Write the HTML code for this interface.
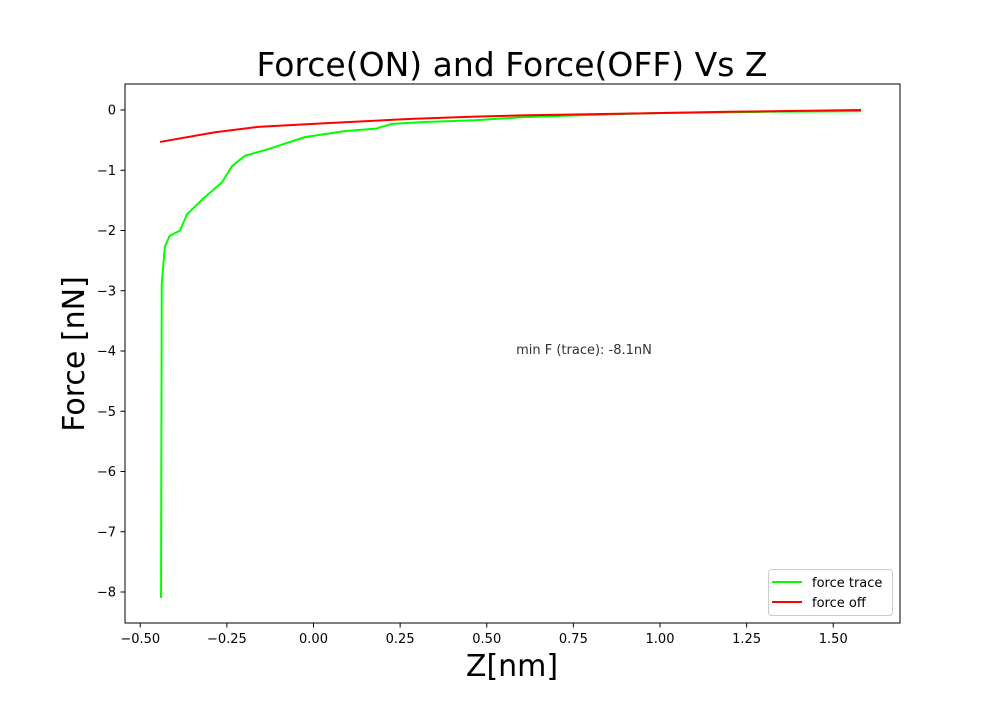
<!DOCTYPE html>
<html><head><meta charset="utf-8">
<style>
body{margin:0;background:#fff;}
svg text{font-family:"DejaVu Sans","Liberation Sans",sans-serif;}
</style></head>
<body>
<svg id="chart" width="1000" height="700" xmlns="http://www.w3.org/2000/svg">
<rect width="1000" height="700" fill="#fff"/>
<text x="512" y="76" font-size="33" text-anchor="middle">Force(ON) and Force(OFF) Vs Z</text>
<g id="plot"></g>
<rect x="125" y="84" width="775" height="539" fill="none" stroke="#000" stroke-width="1"/>
<text x="512" y="676" font-size="30" text-anchor="middle">Z[nm]</text>
<text transform="translate(84,354) rotate(-90)" font-size="30" text-anchor="middle">Force [nN]</text>
<text x="584" y="354" font-size="13" fill="#333" text-anchor="middle">min F (trace): -8.1nN</text>
<g>
<rect x="768.5" y="569.5" width="124" height="46" rx="3" fill="#fff" stroke="#ccc"/>
<line x1="772" y1="582" x2="802" y2="582" stroke="#00ff00" stroke-width="2"/>
<text x="812" y="587" font-size="13">force trace</text>
<line x1="772" y1="602" x2="802" y2="602" stroke="#ff0000" stroke-width="2"/>
<text x="812" y="607" font-size="13">force off</text>
</g>
</svg>
<script>
const xTicks=[-0.5,-0.25,0,0.25,0.5,0.75,1.0,1.25,1.5];
const xTickLabels=["\u22120.50","\u22120.25","0.00","0.25","0.50","0.75","1.00","1.25","1.50"];
const yTicks=[0,-1,-2,-3,-4,-5,-6,-7,-8];
const yTickLabels=["0","\u22121","\u22122","\u22123","\u22124","\u22125","\u22126","\u22127","\u22128"];
const traceZ=[-0.44,-0.438,-0.429,-0.415,-0.385,-0.365,-0.32,-0.264,-0.235,-0.198,-0.131,-0.025,0.09,0.18,0.226,0.32,0.466,0.6,0.8,1.0,1.3,1.58];
const traceF=[-8.1,-2.89,-2.27,-2.09,-2.0,-1.73,-1.48,-1.2,-0.93,-0.76,-0.65,-0.45,-0.35,-0.31,-0.23,-0.2,-0.17,-0.12,-0.08,-0.05,-0.03,-0.02];
const offZ=[-0.443,-0.284,-0.16,0.033,0.273,0.466,0.6,0.9,1.2,1.58];
const offF=[-0.53,-0.37,-0.28,-0.22,-0.15,-0.11,-0.09,-0.06,-0.03,0.0];

const NS="http://www.w3.org/2000/svg";
function xs(v){return 313.5+v*346.5;}
function ys(v){return 110-v*60.25;}
const plot=document.getElementById('plot');
function mk(t,a){const e=document.createElementNS(NS,t);for(const k in a)e.setAttribute(k,a[k]);plot.appendChild(e);return e;}
xTicks.forEach((v,i)=>{
  const l=mk('line',{x1:xs(v),x2:xs(v),y1:623,y2:627.5,stroke:'#000'});
  
  
  const t=mk('text',{x:xs(v),y:643,'font-size':13,'text-anchor':'middle'});
  t.textContent=xTickLabels[i];
  
  
});
yTicks.forEach((v,i)=>{
  const l=mk('line',{x1:120.5,x2:125,y1:ys(v),y2:ys(v),stroke:'#000'});
  
  
  const t=mk('text',{x:116,y:ys(v)+4.5,'font-size':13,'text-anchor':'end'});
  t.textContent=yTickLabels[i];
  
  
});
function line(X,Y,color,name){
  const p=mk('polyline',{points:X.map((x,i)=>xs(x)+','+ys(Y[i])).join(' '),fill:'none',stroke:color,'stroke-width':2,'stroke-linejoin':'round'});
  
  
}
line(traceZ,traceF,'#00ff00','force-trace-line');
line(offZ,offF,'#ff0000','force-off-line');
</script>
</body></html>
